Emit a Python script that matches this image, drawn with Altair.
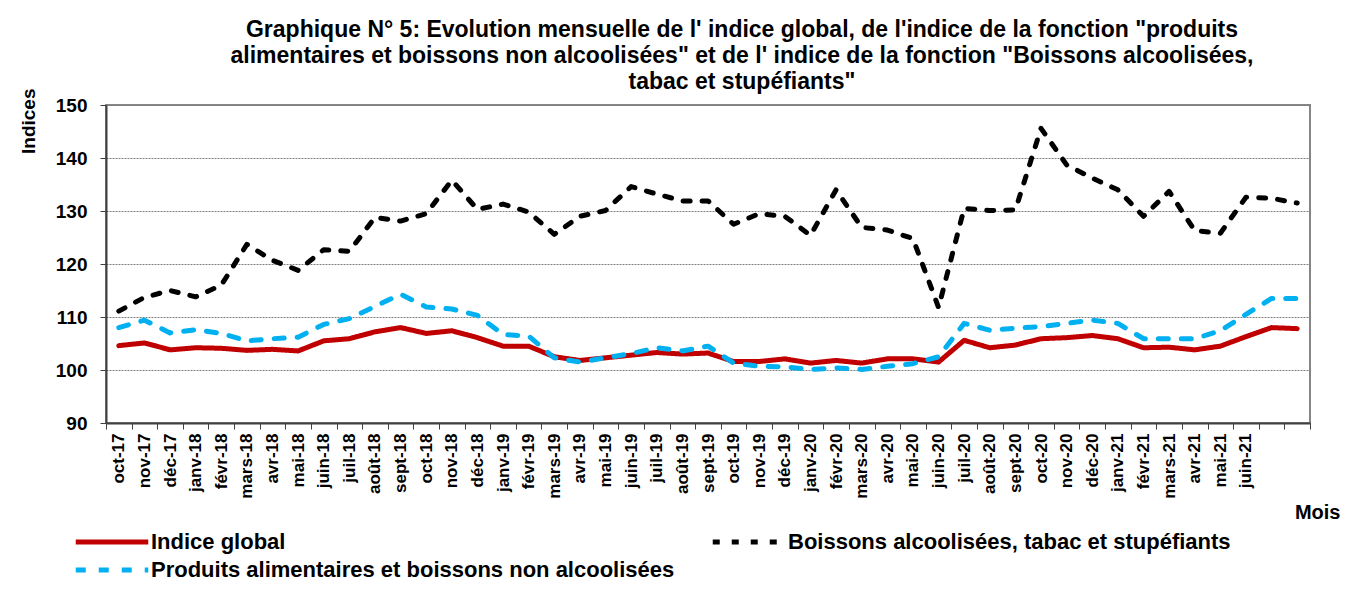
import altair as alt
import pandas as pd

months = ["oct-17", "nov-17", "déc-17", "janv-18", "févr-18", "mars-18", "avr-18", "mai-18",
          "juin-18", "juil-18", "août-18", "sept-18", "oct-18", "nov-18", "déc-18", "janv-19",
          "févr-19", "mars-19", "avr-19", "mai-19", "juin-19", "juil-19", "août-19", "sept-19",
          "oct-19", "nov-19", "déc-19", "janv-20", "févr-20", "mars-20", "avr-20", "mai-20",
          "juin-20", "juil-20", "août-20", "sept-20", "oct-20", "nov-20", "déc-20", "janv-21",
          "févr-21", "mars-21", "avr-21", "mai-21", "juin-21", "juil-21", "août-21"]

# months whose tick label is not shown on the original axis
unlabelled = ["juil-21", "août-21"]

indice_global = [104.6, 105.1, 103.8, 104.2, 104.1, 103.7, 103.9, 103.6, 105.5, 105.9, 107.2, 108.0,
                 106.9, 107.4, 106.1, 104.5, 104.5, 102.5, 101.8, 102.3, 102.8, 103.3, 103.0, 103.2,
                 101.6, 101.6, 102.1, 101.3, 101.8, 101.3, 102.1, 102.1, 101.5, 105.6, 104.2, 104.7,
                 105.9, 106.1, 106.5, 105.9, 104.2, 104.3, 103.8, 104.5, 106.3, 108.0, 107.8]

produits = [108.0, 109.4, 107.0, 107.6, 106.9, 105.5, 105.9, 106.2, 108.6, 109.7, 112.0, 114.3,
            111.9, 111.5, 110.3, 106.7, 106.4, 102.3, 101.5, 102.3, 103.1, 104.2, 103.6, 104.5,
            101.3, 100.7, 100.6, 100.1, 100.4, 100.1, 100.7, 101.2, 102.5, 108.8, 107.5, 107.9,
            108.2, 108.8, 109.4, 108.8, 105.9, 105.9, 105.9, 107.4, 110.5, 113.5, 113.5]

boissons = [111.1, 113.7, 115.0, 113.8, 116.0, 123.7, 120.7, 118.8, 122.7, 122.4, 128.8, 128.1,
            129.5, 135.8, 130.3, 131.3, 129.8, 125.6, 129.0, 130.1, 134.6, 133.2, 131.9, 131.9,
            127.5, 129.5, 129.0, 125.4, 134.0, 126.9, 126.4, 124.8, 111.8, 130.5, 130.1, 130.2,
            145.6, 138.7, 136.2, 134.0, 129.0, 133.7, 126.3, 125.8, 132.6, 132.4, 131.5]

series_names = ["Indice global",
                "Produits alimentaires et boissons non alcoolisées",
                "Boissons alcoolisées, tabac et stupéfiants"]
series_colors = ["#C00000", "#00B0F0", "#000000"]
series_dash = [[1, 0], [10, 13], [7, 12]]

rows = []
for name, vals in zip(series_names, [indice_global, produits, boissons]):
    for i, (m, v) in enumerate(zip(months, vals)):
        rows.append({"Mois": m, "idx": i, "Indice": v, "Serie": name})
df = pd.DataFrame(rows)

label_expr = " || ".join([f"datum.value == '{m}'" for m in unlabelled])
label_expr = f"({label_expr}) ? '' : datum.value"

FONT = "Liberation Sans"

chart = alt.Chart(df).mark_line(strokeWidth=5, strokeCap="round", strokeJoin="round").encode(
    x=alt.X("Mois:N", sort=months,
            scale=alt.Scale(type="band", paddingInner=0, paddingOuter=0),
            axis=alt.Axis(title="Mois", labelAngle=270, labelAlign="right", labelBaseline="middle",
                          labelFontSize=17, labelFontWeight="bold", labelColor="#000",
                          labelPadding=4, tickSize=6, tickBand="extent", tickColor="#404040",
                          domainColor="#404040", domainWidth=2, labelExpr=label_expr,
                          titleFontSize=20, titleFontWeight="bold", titleAnchor="end",
                          titleAlign="right", titleBaseline="alphabetic",
                          titleX=1234, titleY=95, grid=False)),
    y=alt.Y("Indice:Q",
            scale=alt.Scale(domain=[90, 150], nice=False, zero=False),
            axis=alt.Axis(title="Indices", values=[90, 100, 110, 120, 130, 140, 150],
                          labelFontSize=19, labelFontWeight="bold", labelColor="#000",
                          labelPadding=13, tickSize=6, tickColor="#404040",
                          domainColor="#404040", domainWidth=2,
                          grid=True, gridColor="#7f7f7f", gridDash=[2, 1], gridWidth=1,
                          titleFontSize=19, titleFontWeight="bold", titleAngle=270,
                          titleAlign="right", titleBaseline="middle",
                          titleX=-78, titleY=-17)),
    color=alt.Color("Serie:N",
                    scale=alt.Scale(domain=series_names, range=series_colors),
                    legend=alt.Legend(title=None, orient="none", legendX=-11, legendY=420,
                                      columns=2, columnPadding=27, rowPadding=0,
                                      symbolType="M-2.5,0H2.5", symbolSize=841,
                                      symbolStrokeWidth=5, symbolFillColor="transparent",
                                      labelFontSize=22, labelFontWeight="bold", labelColor="#000",
                                      labelOffset=22, labelLimit=800)),
    strokeDash=alt.StrokeDash("Serie:N",
                              scale=alt.Scale(domain=series_names, range=series_dash),
                              legend=alt.Legend(title=None)),
    detail="Serie:N",
    order=alt.Order("idx:Q"),
).properties(
    width=1204,
    height=318,
    autosize=alt.AutoSizeParams(type="none"),
    padding={"left": 98, "top": 97, "right": 44, "bottom": 160},
    title=alt.TitleParams(
        text=["Graphique N° 5: Evolution mensuelle de l' indice global, de l'indice de la fonction \"produits",
              "alimentaires et boissons non alcoolisées\" et de l' indice de la fonction \"Boissons alcoolisées,",
              "tabac et stupéfiants\""],
        fontSize=23, fontWeight="bold", anchor="middle", dx=34, offset=-6, lineHeight=26,
        color="#000", font=FONT),
).configure(font=FONT).configure_view(stroke="#868686", strokeWidth=2)

chart.save("out.html", embed_options={"renderer": "svg", "actions": False})
